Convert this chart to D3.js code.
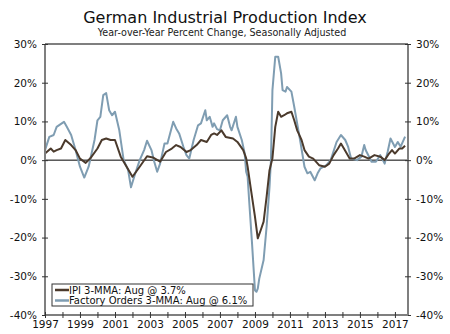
<!DOCTYPE html>
<html>
<head>
<meta charset="utf-8">
<script src="https://cdn.jsdelivr.net/npm/d3@7"></script>
<style>
  body { margin: 0; background: #fff; }
  svg text { font-family: "DejaVu Sans", Verdana, sans-serif; }
</style>
</head>
<body>
<div id="chart"></div>
<script>
// IPI 3-month moving average, y/y % change
const ipiMonths = ["1997-01","1997-05","1997-07","1997-09","1997-12","1998-03","1998-07","1998-10",
  "1999-01","1999-05","1999-08","2000-01","2000-04","2000-07","2000-10","2001-01","2001-05","2001-09",
  "2002-01","2002-06","2002-11","2003-03","2003-08","2003-12","2004-04","2004-07","2004-10","2005-02",
  "2005-05","2005-09","2005-12","2006-04","2006-07","2006-09","2006-11","2007-02","2007-05","2007-10",
  "2008-01","2008-05","2008-07","2008-08","2008-10","2009-01","2009-03","2009-05","2009-07","2009-09",
  "2009-11","2010-01","2010-03","2010-05","2010-07","2010-09","2010-11","2011-02","2011-04","2011-06",
  "2011-07","2011-09","2011-11","2012-02","2012-05","2012-09","2013-01","2013-04","2013-07","2013-10",
  "2013-12","2014-02","2014-06","2014-09","2015-01","2015-04","2015-07","2015-11","2016-03","2016-06",
  "2016-09","2016-11","2017-01","2017-04","2017-06","2017-08"];
const ipiValues = [1.7,3.0,2.2,2.6,3.0,5.2,3.9,2.6,
  0.4,-0.7,0.4,3.0,5.2,5.6,5.2,5.2,0.9,-1.7,
  -4.3,-1.7,1.0,0.7,-0.4,2.1,3.0,3.9,3.4,2.1,
  2.6,3.9,5.2,4.7,6.5,6.9,6.5,7.7,6.0,5.6,
  4.7,2.6,0.5,-1.7,-6.9,-14.6,-20.2,-18.1,-15.9,-9.5,
  -2.6,0.5,8.6,12.5,11.2,11.6,12.1,12.5,10.3,7.7,
  6.9,5.2,2.6,0.9,0.4,-1.3,-1.7,-0.9,1.3,3.0,
  4.3,3.0,0.4,0.4,1.3,0.9,0.4,1.3,0.9,0.0,
  1.7,2.6,1.7,3.0,3.0,3.7];

// Factory orders 3-month moving average, y/y % change
const ordersMonths = ["1997-01","1997-04","1997-07","1997-09","1998-02","1998-04","1998-07","1998-10",
  "1999-01","1999-04","1999-07","1999-11","2000-01","2000-03","2000-05","2000-07","2000-09","2000-11",
  "2001-01","2001-04","2001-07","2001-10","2001-12","2002-03","2002-06","2002-09","2002-11","2003-02",
  "2003-04","2003-06","2003-08","2003-11","2004-01","2004-05","2004-07","2004-09","2004-12","2005-02",
  "2005-04","2005-07","2005-10","2005-12","2006-03","2006-04","2006-06","2006-08","2006-09","2006-11",
  "2007-01","2007-03","2007-06","2007-08","2007-09","2007-12","2008-01","2008-04","2008-06","2008-07",
  "2008-08","2008-09","2008-11","2009-01","2009-02","2009-03","2009-04","2009-07","2009-09","2009-11",
  "2009-12","2010-01","2010-03","2010-05","2010-07","2010-08","2010-10","2010-11","2011-02","2011-04",
  "2011-06","2011-08","2011-11","2012-01","2012-03","2012-06","2012-08","2012-10","2013-02","2013-05",
  "2013-09","2013-12","2014-03","2014-05","2014-07","2014-11","2015-02","2015-04","2015-05","2015-09",
  "2015-12","2016-03","2016-06","2016-08","2016-10","2017-01","2017-03","2017-05","2017-08"];
const ordersValues = [2.6,6.0,6.5,8.6,9.9,8.6,6.5,2.6,
  -1.7,-4.5,-1.7,5.2,10.3,11.2,16.8,17.3,12.9,11.6,
  12.5,7.7,0.0,-2.5,-7.0,-3.4,0.0,2.6,5.0,2.6,
  -0.4,-3.0,-0.9,4.3,4.3,9.9,8.2,6.9,3.4,1.3,
  0.4,5.2,9.0,9.5,12.9,10.3,11.2,8.6,9.5,8.0,
  7.7,10.3,11.6,8.6,7.7,11.2,8.6,5.2,1.7,-3.0,
  -4.3,-10.3,-21.5,-33.6,-34.0,-33.2,-30.6,-25.8,-17.2,-6.9,
  0.0,18.1,26.7,26.7,22.4,18.1,17.7,18.9,17.7,13.8,
  9.5,5.2,-1.7,-3.4,-3.0,-5.2,-3.4,-2.1,-1.3,0.0,
  4.7,6.5,5.2,3.4,0.4,0.0,0.9,3.9,2.6,-0.4,
  -0.4,1.3,-0.9,2.1,5.6,3.4,4.7,3.5,6.1];

const yTicks = [-40, -30, -20, -10, 0, 10, 20, 30];
const seriesNames = ["IPI 3-MMA: Aug @ 3.7%", "Factory Orders 3-MMA: Aug @ 6.1%"];
const seriesColors = ["#4b3a2c", "#7f9db2"];

const W = 450, H = 334;
const plot = { left: 45, right: 408, top: 44, bottom: 315 };
const axisColor = "#7f7f7f";

const parseMonth = d3.timeParse("%Y-%m");

const svg = d3.select("#chart").append("svg")
    .attr("width", W)
    .attr("height", H);

const x = d3.scaleTime()
    .domain([new Date(1997, 0, 1), new Date(2017, 9, 1)])
    .range([plot.left, plot.right]);
const y = d3.scaleLinear()
    .domain([-40, 30])
    .range([plot.bottom, plot.top]);

// Title
svg.append("text")
    .attr("x", 225).attr("y", 23)
    .attr("text-anchor", "middle")
    .style("font-size", "16px")
    .style("fill", "#111")
    .text("German Industrial Production Index");

svg.append("text")
    .attr("x", 222).attr("y", 36)
    .attr("text-anchor", "middle")
    .style("font-size", "9.6px")
    .style("fill", "#222")
    .text("Year-over-Year Percent Change, Seasonally Adjusted");

// zero line
svg.append("line")
    .attr("x1", plot.left).attr("x2", plot.right)
    .attr("y1", y(0)).attr("y2", y(0))
    .attr("stroke", "#000").attr("stroke-width", 1);

// series lines
const line = d3.line()
    .x(d => x(d.date))
    .y(d => y(d.value));

const ipiData = ipiMonths.map((m, i) => ({ date: parseMonth(m), value: ipiValues[i] }));
const ordersData = ordersMonths.map((m, i) => ({ date: parseMonth(m), value: ordersValues[i] }));

svg.append("path")
    .datum(ordersData)
    .attr("fill", "none")
    .attr("stroke", seriesColors[1])
    .attr("stroke-width", 2)
    .attr("stroke-linejoin", "round")
    .attr("d", line);

svg.append("path")
    .datum(ipiData)
    .attr("fill", "none")
    .attr("stroke", seriesColors[0])
    .attr("stroke-width", 2)
    .attr("stroke-linejoin", "round")
    .attr("d", line);

// frame top line
svg.append("line")
    .attr("x1", plot.left).attr("x2", plot.right)
    .attr("y1", plot.top).attr("y2", plot.top)
    .attr("stroke", axisColor).attr("stroke-width", 2);

function styleAxis(g) {
    g.select(".domain").attr("stroke", axisColor).attr("stroke-width", 2);
    g.selectAll(".tick line").attr("stroke", "#333").attr("stroke-width", 1);
    g.selectAll(".tick text")
        .style("font-size", "10.5px")
        .style("font-family", "DejaVu Sans, Verdana, sans-serif")
        .attr("fill", "#111");
}

// left axis
svg.append("g")
    .attr("transform", `translate(${plot.left},0)`)
    .call(d3.axisLeft(y).tickValues(yTicks).tickSize(3).tickPadding(5).tickFormat(d => d + "%"))
    .call(styleAxis)
    .call(g => g.selectAll(".tick line").attr("x1", 3))
    .call(g => g.select(".domain").attr("d", `M0,${plot.top}V${plot.bottom}`));

// right axis
svg.append("g")
    .attr("transform", `translate(${plot.right},0)`)
    .call(d3.axisRight(y).tickValues(yTicks).tickSize(3).tickPadding(5).tickFormat(d => d + "%"))
    .call(styleAxis)
    .call(g => g.selectAll(".tick line").attr("x1", -3))
    .call(g => g.select(".domain").attr("d", `M0,${plot.top}V${plot.bottom}`));

// bottom axis: yearly ticks, labels every other year
svg.append("g")
    .attr("transform", `translate(0,${plot.bottom})`)
    .call(d3.axisBottom(x)
        .ticks(d3.timeYear.every(1))
        .tickSize(3)
        .tickPadding(3)
        .tickFormat(d => (d.getFullYear() % 2 === 1 ? d3.timeFormat("%Y")(d) : "")))
    .call(styleAxis)
    .call(g => g.selectAll(".tick line").attr("y1", -3))
    .call(g => g.select(".domain").attr("d", `M${plot.left},0H${plot.right}`));

// legend
const legend = svg.append("g");
legend.append("rect")
    .attr("x", 52).attr("y", 284)
    .attr("width", 201).attr("height", 22)
    .attr("fill", "#fff")
    .attr("stroke", "#333")
    .attr("stroke-width", 1);

seriesNames.forEach((name, i) => {
    const ly = 290 + i * 10.5;
    legend.append("line")
        .attr("x1", 55).attr("x2", 69)
        .attr("y1", ly).attr("y2", ly)
        .attr("stroke", seriesColors[i])
        .attr("stroke-width", 2.5);
    legend.append("text")
        .attr("x", 69).attr("y", ly + 3.5)
        .style("font-size", "10px")
        .style("fill", "#111")
        .text(name);
});
</script>
</body>
</html>
